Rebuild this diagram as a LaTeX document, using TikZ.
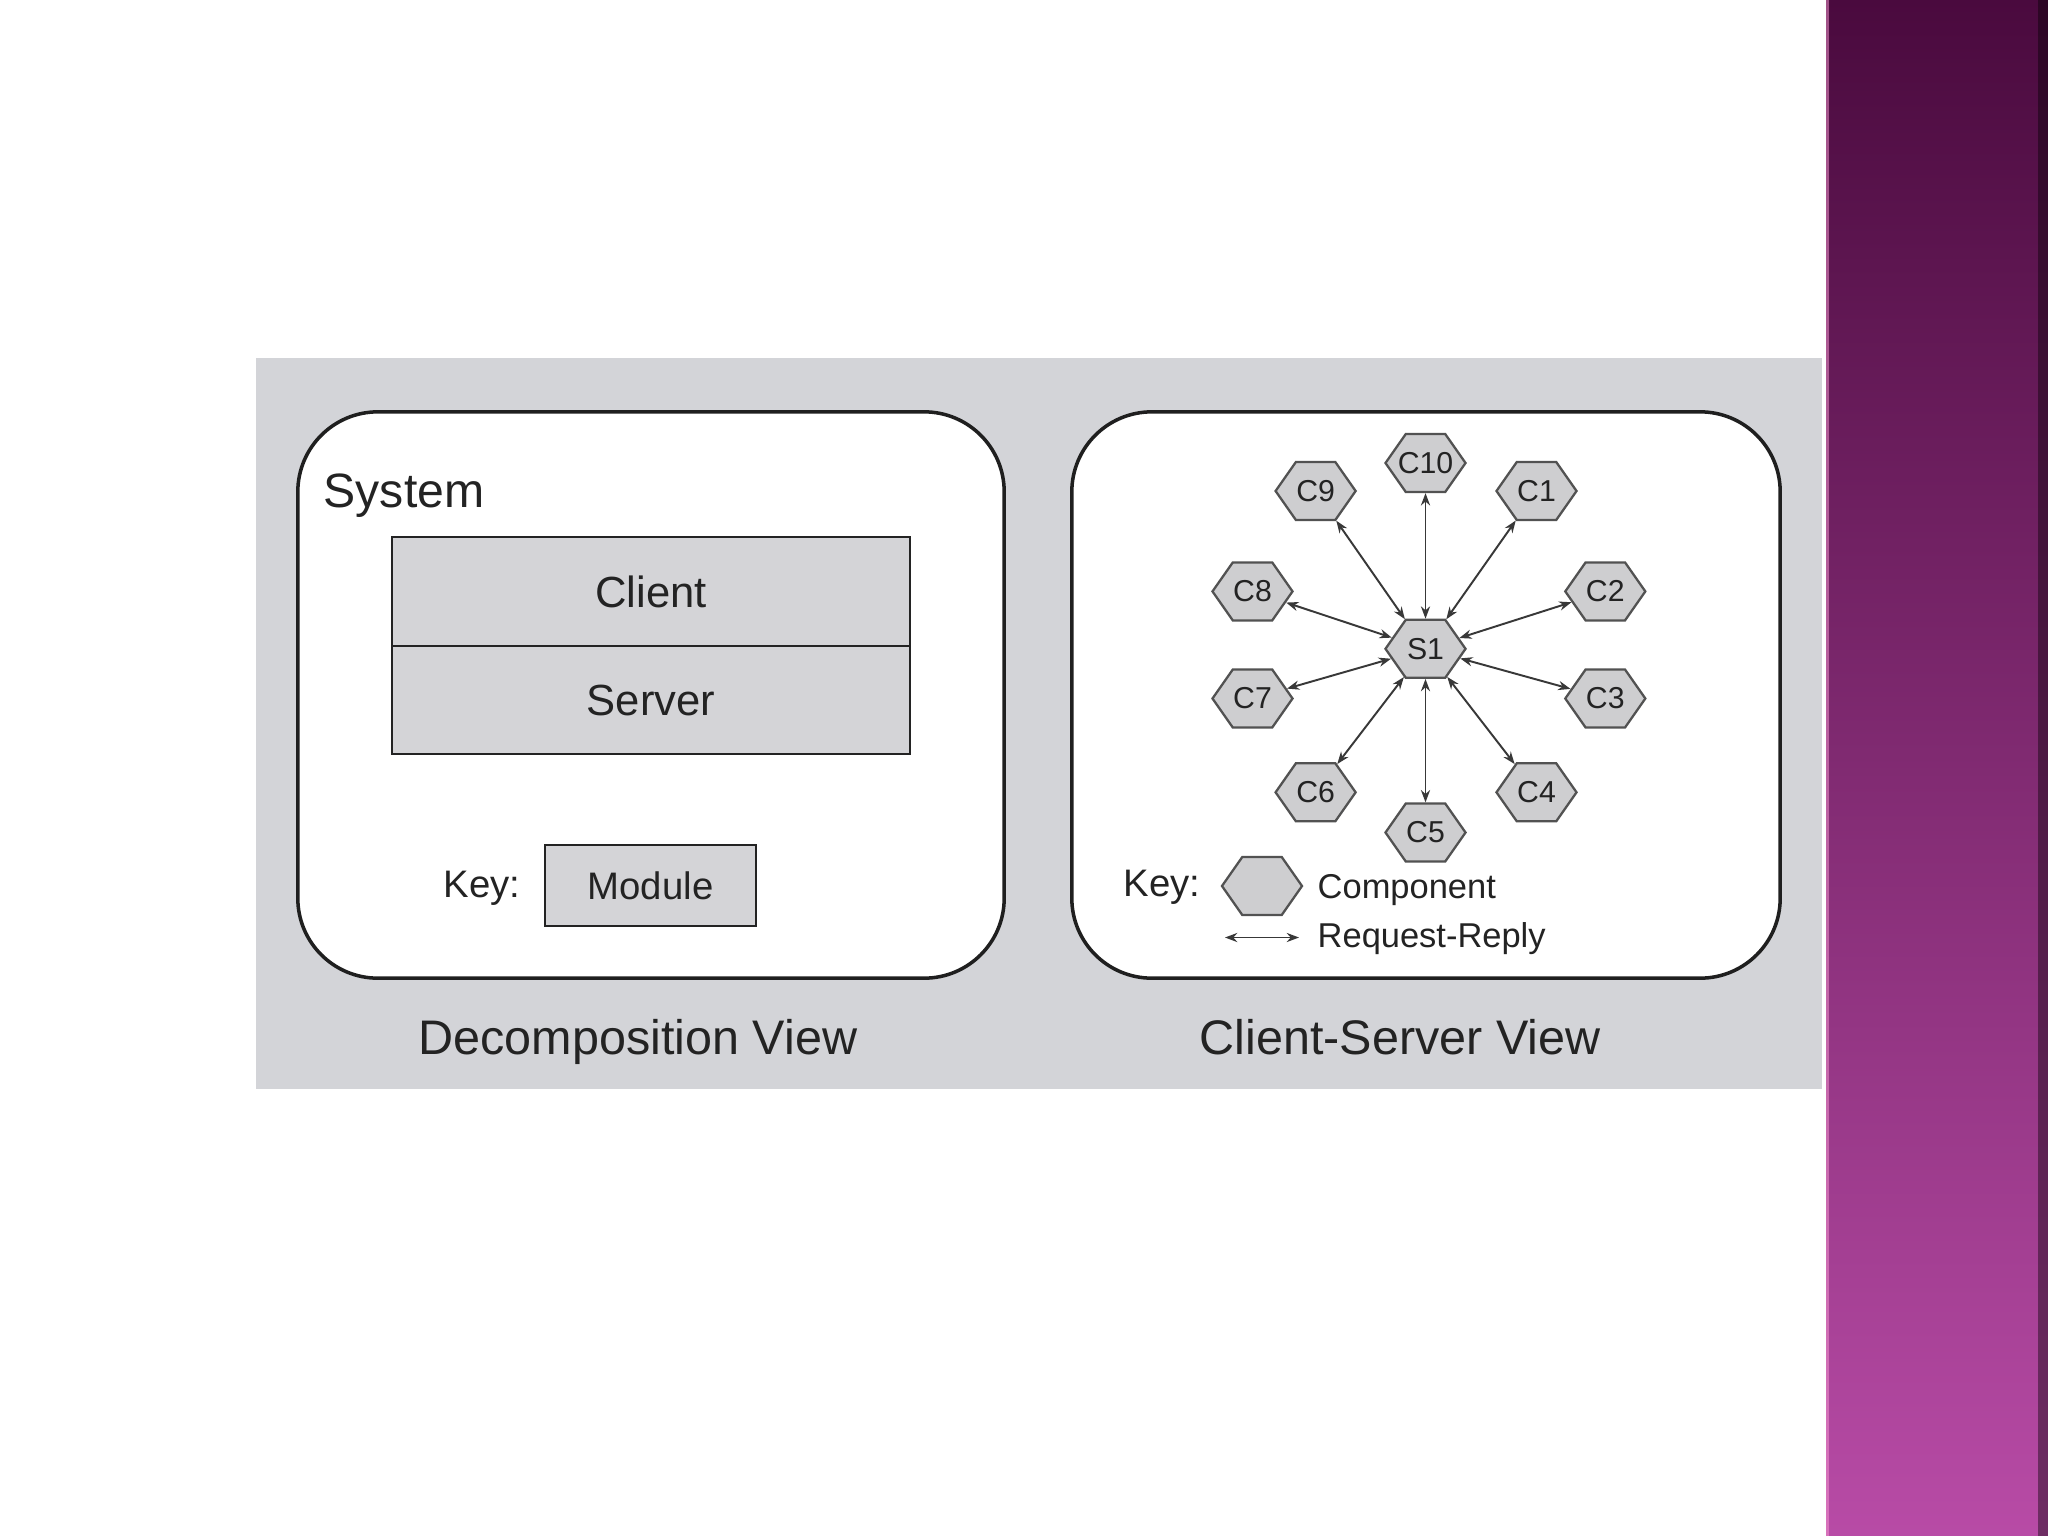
\documentclass[tikz,border=0pt]{standalone}
\usepackage{fontspec}
\setmainfont{Liberation Sans}
\usetikzlibrary{shapes.symbols,arrows.meta}
\definecolor{panel}{HTML}{D3D4D8}
\definecolor{boxfill}{HTML}{D4D4D7}
\definecolor{hexfill}{HTML}{CECED0}
\definecolor{ink}{HTML}{232323}
\definecolor{plumtop}{HTML}{4A0A3E}
\definecolor{plummid}{HTML}{8A3479}
\definecolor{plumbot}{HTML}{B84BA6}
\newcommand\fTitle{\fontsize{13.8}{16}\selectfont}
\newcommand\fSys{\fontsize{13.7}{16}\selectfont}
\newcommand\fMod{\fontsize{12.4}{14}\selectfont}
\newcommand\fKey{\fontsize{10.9}{13}\selectfont}
\newcommand\fComp{\fontsize{9.8}{12}\selectfont}
\newcommand\fHex{\fontsize{8.6}{10}\selectfont}
\begin{document}
\begin{tikzpicture}[x=0.01cm,y=-0.01cm,
  frame/.style={draw=black!88, line width=1pt, fill=white, rounded corners=0.8cm, inner sep=0pt},
  modbox/.style={draw=ink, line width=0.7pt, fill=boxfill, inner sep=0pt, text=ink},
  hexlbl/.style={font=\fHex, text=ink, inner sep=0pt},
  hexa/.style={signal, signal to=east and west, signal pointer angle=110,
    draw=black!68, line width=0.65pt, fill=hexfill,
    minimum width=0.8cm, minimum height=0.58cm, inner sep=0pt,
    label={[hexlbl]center:#1}},
  rr/.style={<->, >={Stealth[length=3.5pt,width=2.6pt]}, draw=black!78, line width=0.55pt},
  lbl/.style={text=ink, inner sep=0pt},
]
\useasboundingbox (0,0) rectangle (2048,1536);
\fill[white] (0,0) rectangle (2048,1536);
% purple side bar
\shade[top color=plumtop, middle color=plummid, bottom color=plumbot] (1826,0) rectangle (2048,1536);
\fill[black, opacity=0.4] (2038,0) rectangle (2048,1536);
\fill[magenta!40!white, opacity=0.5] (1826,0) rectangle (1829,1536);
% gray panel
\fill[panel] (256,358) rectangle (1822,1089);
% frames
\node[frame, minimum width=7.06cm, minimum height=5.66cm] (dframe) at (651,695) {};
\node[frame, minimum width=7.08cm, minimum height=5.66cm] (csframe) at (1426,695) {};
% decomposition view
\node[lbl, anchor=base west, font=\fSys] (system) at (323,507) {System};
\node[modbox, minimum width=5.18cm, minimum height=1.09cm, font=\fMod] (client) at (651,591.5) {Client};
\node[modbox, minimum width=5.18cm, minimum height=1.08cm, font=\fMod] (server) at (651,700) {Server};
\node[lbl, anchor=base west, font=\fKey] (dkey) at (443,897) {Key:};
\node[modbox, minimum width=2.11cm, minimum height=0.81cm, font=\fKey] (module) at (650.5,885.5) {Module};
\node[lbl, anchor=base, font=\fTitle] (dtitle) at (638,1054) {Decomposition View};
% client-server view
\node[hexa=S1] (s1) at (1425.5,648.8) {};
\node[hexa=C10] (c10) at (1425.5,463) {};
\node[hexa=C9] (c9) at (1315.6,491) {};
\node[hexa=C1] (c1) at (1536.5,491) {};
\node[hexa=C8] (c8) at (1252.5,591.4) {};
\node[hexa=C2] (c2) at (1605.3,591.4) {};
\node[hexa=C7] (c7) at (1252.5,698.5) {};
\node[hexa=C3] (c3) at (1605.3,698.5) {};
\node[hexa=C6] (c6) at (1315.6,792.3) {};
\node[hexa=C4] (c4) at (1536.5,792.3) {};
\node[hexa=C5] (c5) at (1425.5,832.5) {};
\foreach \c in {c1,c2,c3,c4,c5,c6,c7,c8,c9,c10}
  \draw[rr] (s1) -- (\c);
% key
\node[lbl, anchor=base west, font=\fKey] (cskey) at (1123,896) {Key:};
\node[hexa={}] (keyhex) at (1262,886) {};
\node[lbl, anchor=base west, font=\fComp] (comp) at (1317,898) {Component};
\coordinate (ra) at (1225,937.5);
\coordinate (rb) at (1299,937.5);
\draw[rr] (ra) -- (rb);
\node[lbl, anchor=base west, font=\fComp] (rrtxt) at (1317,947) {Request-Reply};
\node[lbl, anchor=base, font=\fTitle] (cstitle) at (1400,1054) {Client-Server View};
\end{tikzpicture}
\end{document}
